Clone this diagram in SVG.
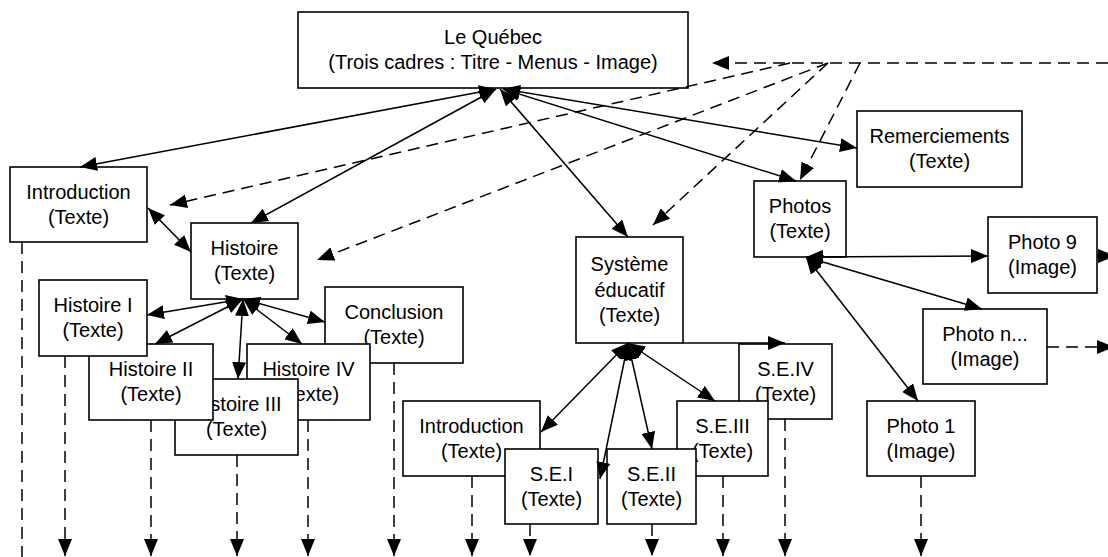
<svg xmlns="http://www.w3.org/2000/svg" width="1108" height="557" viewBox="0 0 1108 557">
<style>
.box{fill:#fff;stroke:#000;stroke-width:1.6}
.t{font-family:"Liberation Sans",Arial,sans-serif;font-size:20px;fill:#000;text-anchor:middle}
.c{fill:none;stroke:#000;stroke-width:1.5}
.d{fill:none;stroke:#000;stroke-width:1.5;stroke-dasharray:12 7}
.e{marker-end:url(#ah)}
.b{marker-start:url(#ah);marker-end:url(#ah)}
</style>
<defs>
<marker id="ah" viewBox="0 0 17 14" refX="17" refY="7" markerWidth="17" markerHeight="14" markerUnits="userSpaceOnUse" orient="auto-start-reverse">
<path d="M0,0 L17,7 L0,14 z" fill="#000" stroke="none"/>
</marker>
</defs>
<rect width="1108" height="557" fill="#fff"/>
<g id="quebec"><rect class="box" x="298" y="12" width="390" height="76"/><text class="t" x="493" y="44">Le Québec</text><text class="t" x="493" y="69">(Trois cadres : Titre - Menus - Image)</text></g>
<g id="remerciements"><rect class="box" x="857" y="111" width="165" height="76"/><text class="t" x="939.5" y="143">Remerciements</text><text class="t" x="939.5" y="168">(Texte)</text></g>
<g id="introduction"><rect class="box" x="10" y="167" width="137" height="75"/><text class="t" x="78.5" y="199">Introduction</text><text class="t" x="78.5" y="224">(Texte)</text></g>
<g id="photos"><rect class="box" x="754" y="181" width="92" height="76"/><text class="t" x="800" y="213">Photos</text><text class="t" x="800" y="238">(Texte)</text></g>
<g id="histoire"><rect class="box" x="191" y="223" width="107" height="76"/><text class="t" x="244.5" y="255">Histoire</text><text class="t" x="244.5" y="280">(Texte)</text></g>
<g id="photo9"><rect class="box" x="988" y="217" width="109" height="76"/><text class="t" x="1042.5" y="249">Photo 9</text><text class="t" x="1042.5" y="274">(Image)</text></g>
<g id="systeme"><rect class="box" x="576" y="237" width="107" height="106"/><text class="t" x="629.5" y="271">Système</text><text class="t" x="629.5" y="297">éducatif</text><text class="t" x="629.5" y="322">(Texte)</text></g>
<g id="conclusion"><rect class="box" x="325" y="287" width="138" height="76"/><text class="t" x="394" y="319">Conclusion</text><text class="t" x="394" y="344">(Texte)</text></g>
<g id="photon"><rect class="box" x="923" y="309" width="124" height="75"/><text class="t" x="985" y="341">Photo n...</text><text class="t" x="985" y="366">(Image)</text></g>
<g id="histoire4"><rect class="box" x="247" y="344" width="123" height="76"/><text class="t" x="308.5" y="376">Histoire IV</text><text class="t" x="308.5" y="401">(Texte)</text></g>
<g id="histoire3"><rect class="box" x="175" y="379" width="123" height="76"/><text class="t" x="236.5" y="411">Histoire III</text><text class="t" x="236.5" y="436">(Texte)</text></g>
<g id="histoire2"><rect class="box" x="89" y="344" width="124" height="76"/><text class="t" x="151" y="376">Histoire II</text><text class="t" x="151" y="401">(Texte)</text></g>
<g id="histoire1"><rect class="box" x="39" y="280" width="108" height="76"/><text class="t" x="93" y="312">Histoire I</text><text class="t" x="93" y="337">(Texte)</text></g>
<g id="se4"><rect class="box" x="739" y="344" width="93" height="75"/><text class="t" x="785.5" y="376">S.E.IV</text><text class="t" x="785.5" y="401">(Texte)</text></g>
<g id="se3"><rect class="box" x="677" y="401" width="91" height="75"/><text class="t" x="722.5" y="433">S.E.III</text><text class="t" x="722.5" y="458">(Texte)</text></g>
<g id="seintro"><rect class="box" x="403" y="401" width="137" height="75"/><text class="t" x="471.5" y="433">Introduction</text><text class="t" x="471.5" y="458">(Texte)</text></g>
<g id="se1"><rect class="box" x="505" y="449" width="93" height="75"/><text class="t" x="551.5" y="481">S.E.I</text><text class="t" x="551.5" y="506">(Texte)</text></g>
<g id="se2"><rect class="box" x="607" y="449" width="89" height="75"/><text class="t" x="651.5" y="481">S.E.II</text><text class="t" x="651.5" y="506">(Texte)</text></g>
<g id="photo1"><rect class="box" x="867" y="401" width="108" height="75"/><text class="t" x="921" y="433">Photo 1</text><text class="t" x="921" y="458">(Image)</text></g>
<g id="connectors">
<path class="c b" d="M496,89 L80,167"/>
<path class="c b" d="M496,89 L251,223"/>
<path class="c b" d="M500,89 L628,237"/>
<path class="c b" d="M503,89 L796,181"/>
<path class="c b" d="M503,89 L857,148"/>
<path class="c b" d="M148,208 L191,252"/>
<path class="c b" d="M243,299 L147,315"/>
<path class="c b" d="M243,299 L155,344"/>
<path class="c b" d="M243,299 L238,379"/>
<path class="c b" d="M243,299 L302,344"/>
<path class="c b" d="M243,299 L325,322"/>
<path class="c b" d="M628,343 L541,432"/>
<path class="c b" d="M628,343 L600,479"/>
<path class="c b" d="M628,343 L652,449"/>
<path class="c b" d="M628,343 L715,401"/>
<path class="c e" d="M683,343 L785,343"/>
<path class="c b" d="M806,257 L988,256"/>
<path class="c b" d="M806,257 L982,309"/>
<path class="c b" d="M806,257 L918,401"/>
<path class="c e" d="M1097,256 L1115,256"/>
<path class="d e" d="M1047,347 L1114,347"/>
<path class="d e" d="M1108,63 L712,63"/>
<path class="d e" d="M790,63 L170,205"/>
<path class="d e" d="M828,63 L317,260"/>
<path class="d e" d="M828,63 L653,225"/>
<path class="d e" d="M860,63 L800,180"/>
<path class="d" d="M22,242 L22,557"/>
<path class="d e" d="M65,356 L65,556"/>
<path class="d e" d="M151,420 L151,556"/>
<path class="d e" d="M237,455 L237,556"/>
<path class="d e" d="M308,420 L308,556"/>
<path class="d e" d="M394,363 L394,556"/>
<path class="d e" d="M472,476 L472,556"/>
<path class="d e" d="M530,524 L530,556"/>
<path class="d e" d="M652,524 L652,556"/>
<path class="d e" d="M723,476 L723,556"/>
<path class="d e" d="M785,419 L785,556"/>
<path class="d e" d="M921,476 L921,556"/>
</g>
</svg>
